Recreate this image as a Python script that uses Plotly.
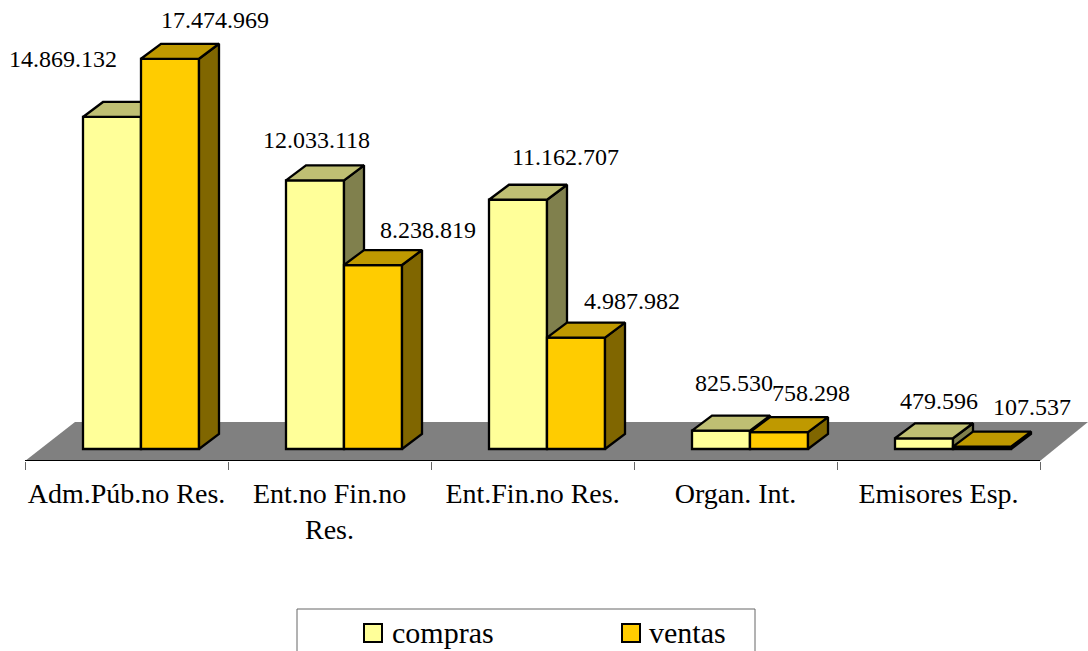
import plotly.graph_objects as go

categories = ["Adm.Púb.no Res.", "Ent.no Fin.no<br>Res.", "Ent.Fin.no Res.", "Organ. Int.", "Emisores Esp."]
compras = [14869132, 12033118, 11162707, 825530, 479596]
ventas = [17474969, 8238819, 4987982, 758298, 107537]
labels_c = ["14.869.132", "12.033.118", "11.162.707", "825.530", "479.596"]
labels_v = ["17.474.969", "8.238.819", "4.987.982", "758.298", "107.537"]

W, H = 1088, 651
AX_L, SLOT = 25.0, 203.0
BASE_PX, AXIS_PX = 449.0, 461.0
PX_PER_UNIT = 22.33e-6
DX = 20 / SLOT
DY = 15 / PX_PER_UNIT
BW = 58 / SLOT
X0 = 58 / SLOT
xrange = [-AX_L / SLOT, (W - AX_L) / SLOT]
yrange = [-(AXIS_PX - BASE_PX) / PX_PER_UNIT, (BASE_PX) / PX_PER_UNIT]
FONT = "Liberation Serif"
LW = 2.3

C = dict(front="#FFFF99", top="#BFBF73", side="#80804D")
V = dict(front="#FFCC00", top="#BF9900", side="#806600")

cdx = [-49, 1, 47, 13, 15]
cdy = [58, 40, 43, 48, 37]
vdx = [45, 55, 56, 32, 50]
vdy = [39, 35, 37, 39, 40]

fig = go.Figure()


def faces(vals, left, col, xa, ya):
    for i, v in enumerate(vals):
        a = i + left
        b = a + BW
        fig.add_trace(go.Scatter(x=[b, b + DX, b + DX, b, b], y=[v, v + DY, DY, 0, v], mode="lines",
                                 fill="toself", fillcolor=col["side"], line=dict(color="black", width=LW),
                                 showlegend=False, hoverinfo="skip", xaxis=xa, yaxis=ya))
        fig.add_trace(go.Scatter(x=[a, a + DX, b + DX, b, a], y=[v, v + DY, v + DY, v, v], mode="lines",
                                 fill="toself", fillcolor=col["top"], line=dict(color="black", width=LW),
                                 showlegend=False, hoverinfo="skip", xaxis=xa, yaxis=ya))


xc = [i + X0 + BW / 2 for i in range(5)]
xv = [i + X0 + BW * 1.5 for i in range(5)]

fig.add_trace(go.Bar(x=xc, y=compras, width=BW, marker=dict(color=C["front"], line=dict(color="black", width=LW)),
                     showlegend=False, xaxis="x", yaxis="y"))
faces(compras, X0, C, "x", "y")
fig.add_trace(go.Bar(x=xv, y=ventas, width=BW, marker=dict(color=V["front"], line=dict(color="black", width=LW)),
                     showlegend=False, xaxis="x2", yaxis="y2"))
faces(ventas, X0 + BW, V, "x2", "y2")

for name, col in (("compras", C), ("ventas", V)):
    fig.add_trace(go.Scatter(x=[None], y=[None], name=name, mode="markers",
                             marker=dict(symbol="square", size=10, color=col["front"],
                                         line=dict(color=col["front"], width=0))))

ann = []
for xs, vals, txt, dx, dy, xr, yr in ((xc, compras, labels_c, cdx, cdy, "x", "y"),
                                       (xv, ventas, labels_v, vdx, vdy, "x2", "y2")):
    for i in range(5):
        ann.append(dict(x=xs[i], y=vals[i], xref=xr, yref=yr, text=txt[i], showarrow=False,
                        xshift=dx[i], yshift=dy[i], xanchor="center", yanchor="middle",
                        font=dict(family=FONT, size=24, color="black")))


def py(px):
    return 1 - px / AXIS_PX


def box(x0, x1, y0, y1, fill, line):
    return dict(type="rect", xref="paper", yref="paper", layer="below", x0=x0 / W, x1=x1 / W, y0=py(y0), y1=py(y1),
                fillcolor=fill, line=line)


y_bot = yrange[0]
shapes = [
    dict(type="path", xref="x", yref="y", layer="below",
         path=f"M 0 {y_bot} L 5 {y_bot} L {xrange[1]} {y_bot + 39 / PX_PER_UNIT} "
              f"L {50 / SLOT} {y_bot + 39 / PX_PER_UNIT} Z",
         fillcolor="#808080", line=dict(color="#808080", width=0)),
    dict(type="line", xref="x", yref="y", layer="above", x0=0, x1=5, y0=y_bot, y1=y_bot,
         line=dict(color="black", width=2)),
    box(297, 755, 609, 660, "white", dict(color="#666666", width=1)),
    box(364, 382, 624, 642, C["front"], dict(color="black", width=2)),
    box(622, 640, 624, 642, V["front"], dict(color="black", width=2)),
]

fig.update_layout(
    width=W, height=H, margin=dict(l=0, r=0, t=0, b=H - AXIS_PX, autoexpand=False),
    paper_bgcolor="white", plot_bgcolor="rgba(0,0,0,0)", barmode="overlay",
    font=dict(family=FONT, size=28, color="black"),
    annotations=ann, shapes=shapes,
    xaxis=dict(range=xrange, tickmode="array", tickvals=[i + 0.5 for i in range(5)], ticktext=categories,
               ticks="", showgrid=False, zeroline=False, showline=False,
               tickfont=dict(family=FONT, size=28, color="black"), ticklabelstandoff=13,
               minor=dict(ticks="outside", tick0=0, dtick=1, ticklen=8, tickcolor="#666666", tickwidth=1, showgrid=False)),
    yaxis=dict(range=yrange, visible=False),
    xaxis2=dict(range=xrange, overlaying="x", visible=False),
    yaxis2=dict(range=yrange, overlaying="y", visible=False),
    showlegend=True,
    legend=dict(orientation="h", x=297 / W, y=py(605), xanchor="left", yanchor="top",
                bgcolor="rgba(0,0,0,0)", borderwidth=0,
                font=dict(family=FONT, size=30, color="black"),
                indentation=55, entrywidth=157, entrywidthmode="pixels", itemwidth=30),
)
fig.write_html("out.html", config=dict(displayModeBar=False),
               post_script="document.body.style.margin='0';document.body.style.overflow='hidden';")
